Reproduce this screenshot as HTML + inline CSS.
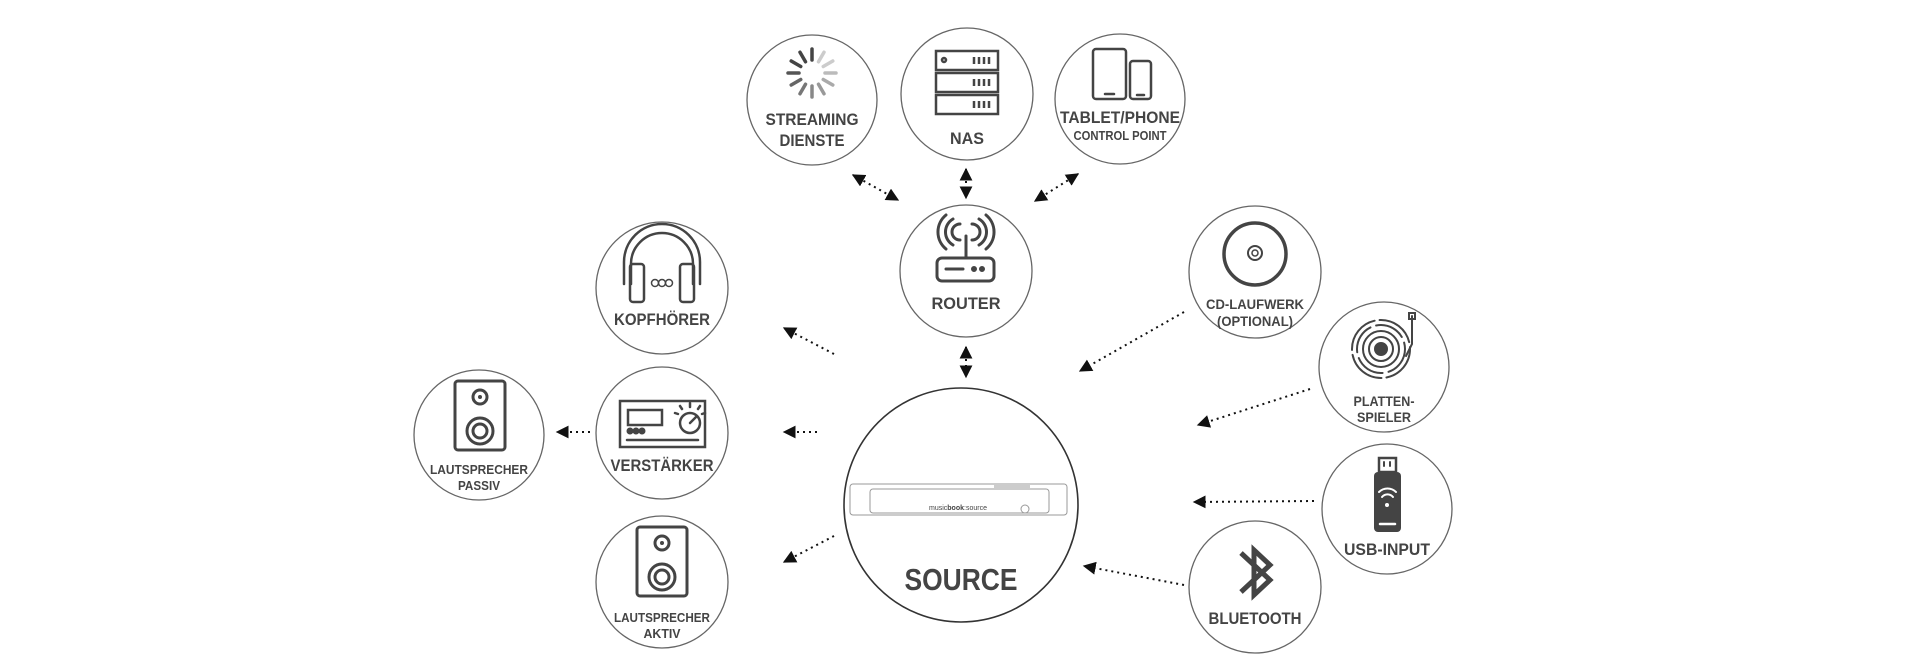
<!DOCTYPE html>
<html><head><meta charset="utf-8"><style>
html,body{margin:0;padding:0;background:#fff;}
svg{display:block;}
text{font-family:"Liberation Sans Narrow","Liberation Sans",sans-serif;font-weight:700;fill:#444;text-anchor:middle;}
</style></head><body>
<svg width="1920" height="670" viewBox="0 0 1920 670" xmlns="http://www.w3.org/2000/svg">
<defs>
<marker id="ah" viewBox="0 0 10 10" refX="9" refY="5" markerWidth="13" markerHeight="13" markerUnits="userSpaceOnUse" orient="auto-start-reverse">
<path d="M0,0 L10,5 L0,10 z" fill="#111"/></marker>
</defs>
<g fill="none" stroke="#666" stroke-width="1.3">
<circle cx="812" cy="100" r="65"/>
<circle cx="967" cy="94" r="66"/>
<circle cx="1120" cy="99" r="65"/>
<circle cx="966" cy="271" r="66"/>
<circle cx="662" cy="288" r="66"/>
<circle cx="1255" cy="272" r="66"/>
<circle cx="1384" cy="367" r="65"/>
<circle cx="662" cy="433" r="66"/>
<circle cx="479" cy="435" r="65"/>
<circle cx="662" cy="582" r="66"/>
<circle cx="1387" cy="509" r="65"/>
<circle cx="1255" cy="587" r="66"/>
<circle cx="961" cy="505" r="117" stroke="#333" stroke-width="1.6"/>
</g>
<g stroke="#111" stroke-width="2" stroke-dasharray="2 4" fill="none">
<line x1="853" y1="175" x2="898" y2="200" marker-start="url(#ah)" marker-end="url(#ah)"/>
<line x1="966" y1="169" x2="966" y2="198" marker-start="url(#ah)" marker-end="url(#ah)"/>
<line x1="1078" y1="174" x2="1035" y2="201" marker-start="url(#ah)" marker-end="url(#ah)"/>
<line x1="966" y1="347" x2="966" y2="377" marker-start="url(#ah)" marker-end="url(#ah)"/>
<line x1="834" y1="354" x2="784" y2="328" marker-end="url(#ah)"/>
<line x1="817" y1="432" x2="784" y2="432" marker-end="url(#ah)"/>
<line x1="590" y1="432" x2="557" y2="432" marker-end="url(#ah)"/>
<line x1="834" y1="536" x2="784" y2="562" marker-end="url(#ah)"/>
<line x1="1184" y1="312" x2="1080" y2="371" marker-end="url(#ah)"/>
<line x1="1310" y1="389" x2="1198" y2="425" marker-end="url(#ah)"/>
<line x1="1314" y1="501" x2="1194" y2="502" marker-end="url(#ah)"/>
<line x1="1184" y1="585" x2="1084" y2="566" marker-end="url(#ah)"/>
</g>
<g lengthAdjust="spacingAndGlyphs">
<text x="812" y="125" font-size="17" textLength="93" lengthAdjust="spacingAndGlyphs">STREAMING</text>
<text x="812" y="146" font-size="17" textLength="65" lengthAdjust="spacingAndGlyphs">DIENSTE</text>
<text x="967" y="144" font-size="17" textLength="34" lengthAdjust="spacingAndGlyphs">NAS</text>
<text x="1120" y="123" font-size="17" textLength="120" lengthAdjust="spacingAndGlyphs">TABLET/PHONE</text>
<text x="1120" y="140" font-size="13" textLength="93" lengthAdjust="spacingAndGlyphs">CONTROL POINT</text>
<text x="966" y="309" font-size="17" textLength="69" lengthAdjust="spacingAndGlyphs">ROUTER</text>
<text x="662" y="325" font-size="17" textLength="96" lengthAdjust="spacingAndGlyphs">KOPFHÖRER</text>
<text x="1255" y="309" font-size="14" textLength="98" lengthAdjust="spacingAndGlyphs">CD-LAUFWERK</text>
<text x="1255" y="326" font-size="14" textLength="76" lengthAdjust="spacingAndGlyphs">(OPTIONAL)</text>
<text x="1384" y="406" font-size="14" textLength="61" lengthAdjust="spacingAndGlyphs">PLATTEN-</text>
<text x="1384" y="422" font-size="14" textLength="54" lengthAdjust="spacingAndGlyphs">SPIELER</text>
<text x="662" y="471" font-size="17" textLength="103" lengthAdjust="spacingAndGlyphs">VERSTÄRKER</text>
<text x="479" y="474" font-size="13" textLength="98" lengthAdjust="spacingAndGlyphs">LAUTSPRECHER</text>
<text x="479" y="490" font-size="13" textLength="42" lengthAdjust="spacingAndGlyphs">PASSIV</text>
<text x="662" y="622" font-size="13" textLength="96" lengthAdjust="spacingAndGlyphs">LAUTSPRECHER</text>
<text x="662" y="638" font-size="13" textLength="37" lengthAdjust="spacingAndGlyphs">AKTIV</text>
<text x="1387" y="555" font-size="17" textLength="86" lengthAdjust="spacingAndGlyphs">USB-INPUT</text>
<text x="1255" y="624" font-size="17" textLength="93" lengthAdjust="spacingAndGlyphs">BLUETOOTH</text>
<text x="961" y="590" font-size="31" textLength="113" lengthAdjust="spacingAndGlyphs">SOURCE</text>
</g>
<g fill="none" stroke="#999" stroke-width="1">
<rect x="850" y="484" width="217" height="31" rx="3"/>
<rect x="870" y="489" width="179" height="24" rx="3"/>
<circle cx="1025" cy="509" r="4"/>
</g>
<rect x="994" y="483" width="36" height="5" fill="#ccc"/>
<text x="958" y="510" font-size="7" style="font-weight:normal">music<tspan font-weight="bold">book</tspan>:source</text>
<g stroke="#444" fill="none" stroke-width="3" stroke-linecap="round">
<g transform="translate(812,73)" stroke-width="3.5">
<line x1="0" y1="-24" x2="0" y2="-13" transform="rotate(0)"/>
<line x1="0" y1="-24" x2="0" y2="-13" transform="rotate(30)" stroke="#ccc"/>
<line x1="0" y1="-24" x2="0" y2="-13" transform="rotate(60)" stroke="#ccc"/>
<line x1="0" y1="-24" x2="0" y2="-13" transform="rotate(90)" stroke="#bbb"/>
<line x1="0" y1="-24" x2="0" y2="-13" transform="rotate(120)" stroke="#aaa"/>
<line x1="0" y1="-24" x2="0" y2="-13" transform="rotate(150)" stroke="#999"/>
<line x1="0" y1="-24" x2="0" y2="-13" transform="rotate(180)" stroke="#888"/>
<line x1="0" y1="-24" x2="0" y2="-13" transform="rotate(210)" stroke="#777"/>
<line x1="0" y1="-24" x2="0" y2="-13" transform="rotate(240)" stroke="#666"/>
<line x1="0" y1="-24" x2="0" y2="-13" transform="rotate(270)" stroke="#555"/>
<line x1="0" y1="-24" x2="0" y2="-13" transform="rotate(300)"/>
<line x1="0" y1="-24" x2="0" y2="-13" transform="rotate(330)"/>
</g>
<g stroke-width="2.5" stroke-linecap="butt">
<rect x="936" y="51" width="62" height="19"/><rect x="936" y="73" width="62" height="19"/><rect x="936" y="95" width="62" height="19"/>
<path d="M974 57v7M979 57v7M984 57v7M989 57v7M974 79v7M979 79v7M984 79v7M989 79v7M974 101v7M979 101v7M984 101v7M989 101v7"/>
<circle cx="944" cy="60" r="2"/>
</g>
<g stroke-width="2.5">
<rect x="1093" y="49" width="33" height="50" rx="3"/><rect x="1130" y="61" width="21" height="38" rx="3"/>
<line x1="1105" y1="94" x2="1114" y2="94"/><line x1="1137" y1="95" x2="1144" y2="95"/>
</g>
<g stroke-width="3">
<rect x="937" y="258" width="57" height="23" rx="5"/>
<line x1="946" y1="269" x2="963" y2="269"/><circle cx="974" cy="269" r="1.5"/><circle cx="982" cy="269" r="1.5"/>
<line x1="966" y1="236" x2="966" y2="258"/>
<path d="M960 224a8 8 0 0 0 0 16M972 224a8 8 0 0 1 0 16M953 219a15 15 0 0 0 0 26M979 219a15 15 0 0 1 0 26M946 215a22 22 0 0 0 0 34M986 215a22 22 0 0 1 0 34"/>
</g>
<g stroke-width="2.5">
<path d="M624 284v-22a38 38 0 0 1 76 0v22"/>
<path d="M631 284v-20a31 31 0 0 1 62 0v20"/>
<rect x="630" y="264" width="14" height="38" rx="3"/><rect x="680" y="264" width="14" height="38" rx="3"/>
<circle cx="655" cy="283" r="3.5" stroke-width="1.5"/><circle cx="662" cy="283" r="3.5" stroke-width="1.5"/><circle cx="669" cy="283" r="3.5" stroke-width="1.5"/>
</g>
<circle cx="1255" cy="254" r="31" stroke-width="3.5"/>
<circle cx="1255" cy="253" r="7" stroke-width="2"/><circle cx="1255" cy="253" r="3" stroke-width="1.5"/>
<g stroke-width="2">
<circle cx="1381" cy="349" r="6" fill="#444"/>
<circle cx="1381" cy="349" r="12"/><circle cx="1381" cy="349" r="18"/><circle cx="1381" cy="349" r="24" stroke-dasharray="30 6"/><circle cx="1381" cy="349" r="29" stroke-dasharray="40 5"/>
<path d="M1412 316v28l-6 12"/><rect x="1409" y="313" width="6" height="6"/>
</g>
<g stroke-width="2.5">
<rect x="620" y="401" width="85" height="46"/>
<rect x="628" y="410" width="34" height="15"/>
<line x1="627" y1="440" x2="698" y2="440"/>
<circle cx="690" cy="423" r="10"/><line x1="690" y1="423" x2="696" y2="417"/>
<path d="M680 406l2 3M690 403v4M700 406l-2 3M675 413l3 1M705 413l-3 1"/>
</g>
<circle cx="630" cy="431" r="2" fill="#444"/><circle cx="636" cy="431" r="2" fill="#444"/><circle cx="642" cy="431" r="2" fill="#444"/>
<g stroke-width="3">
<rect x="455" y="381" width="50" height="69" rx="3"/>
<circle cx="480" cy="397" r="7"/><circle cx="480" cy="431" r="13"/><circle cx="480" cy="431" r="7"/>
<rect x="637" y="527" width="50" height="69" rx="3"/>
<circle cx="662" cy="543" r="7"/><circle cx="662" cy="577" r="13"/><circle cx="662" cy="577" r="7"/>
</g>
<circle cx="480" cy="397" r="2" fill="#444" stroke="none"/><circle cx="662" cy="543" r="2" fill="#444" stroke="none"/>
<rect x="1379" y="458" width="17" height="14" stroke-width="2.5"/>
<path d="M1384 462v4M1390 462v4" stroke-width="2"/>
<rect x="1374" y="472" width="27" height="60" rx="4" fill="#444" stroke="none"/>
<path d="M1379 492a12 12 0 0 1 17 0M1382 497a7 7 0 0 1 11 0" stroke="#fff" stroke-width="2"/>
<circle cx="1387" cy="505" r="2" fill="#fff" stroke="none"/>
<line x1="1380" y1="524" x2="1395" y2="524" stroke="#fff" stroke-width="2.5"/>
<path d="M1241 553l29 27-16 15v-45l16 15-29 27" stroke-width="5" stroke-linecap="butt" stroke-linejoin="miter"/>
</g>
</svg>
</body></html>
